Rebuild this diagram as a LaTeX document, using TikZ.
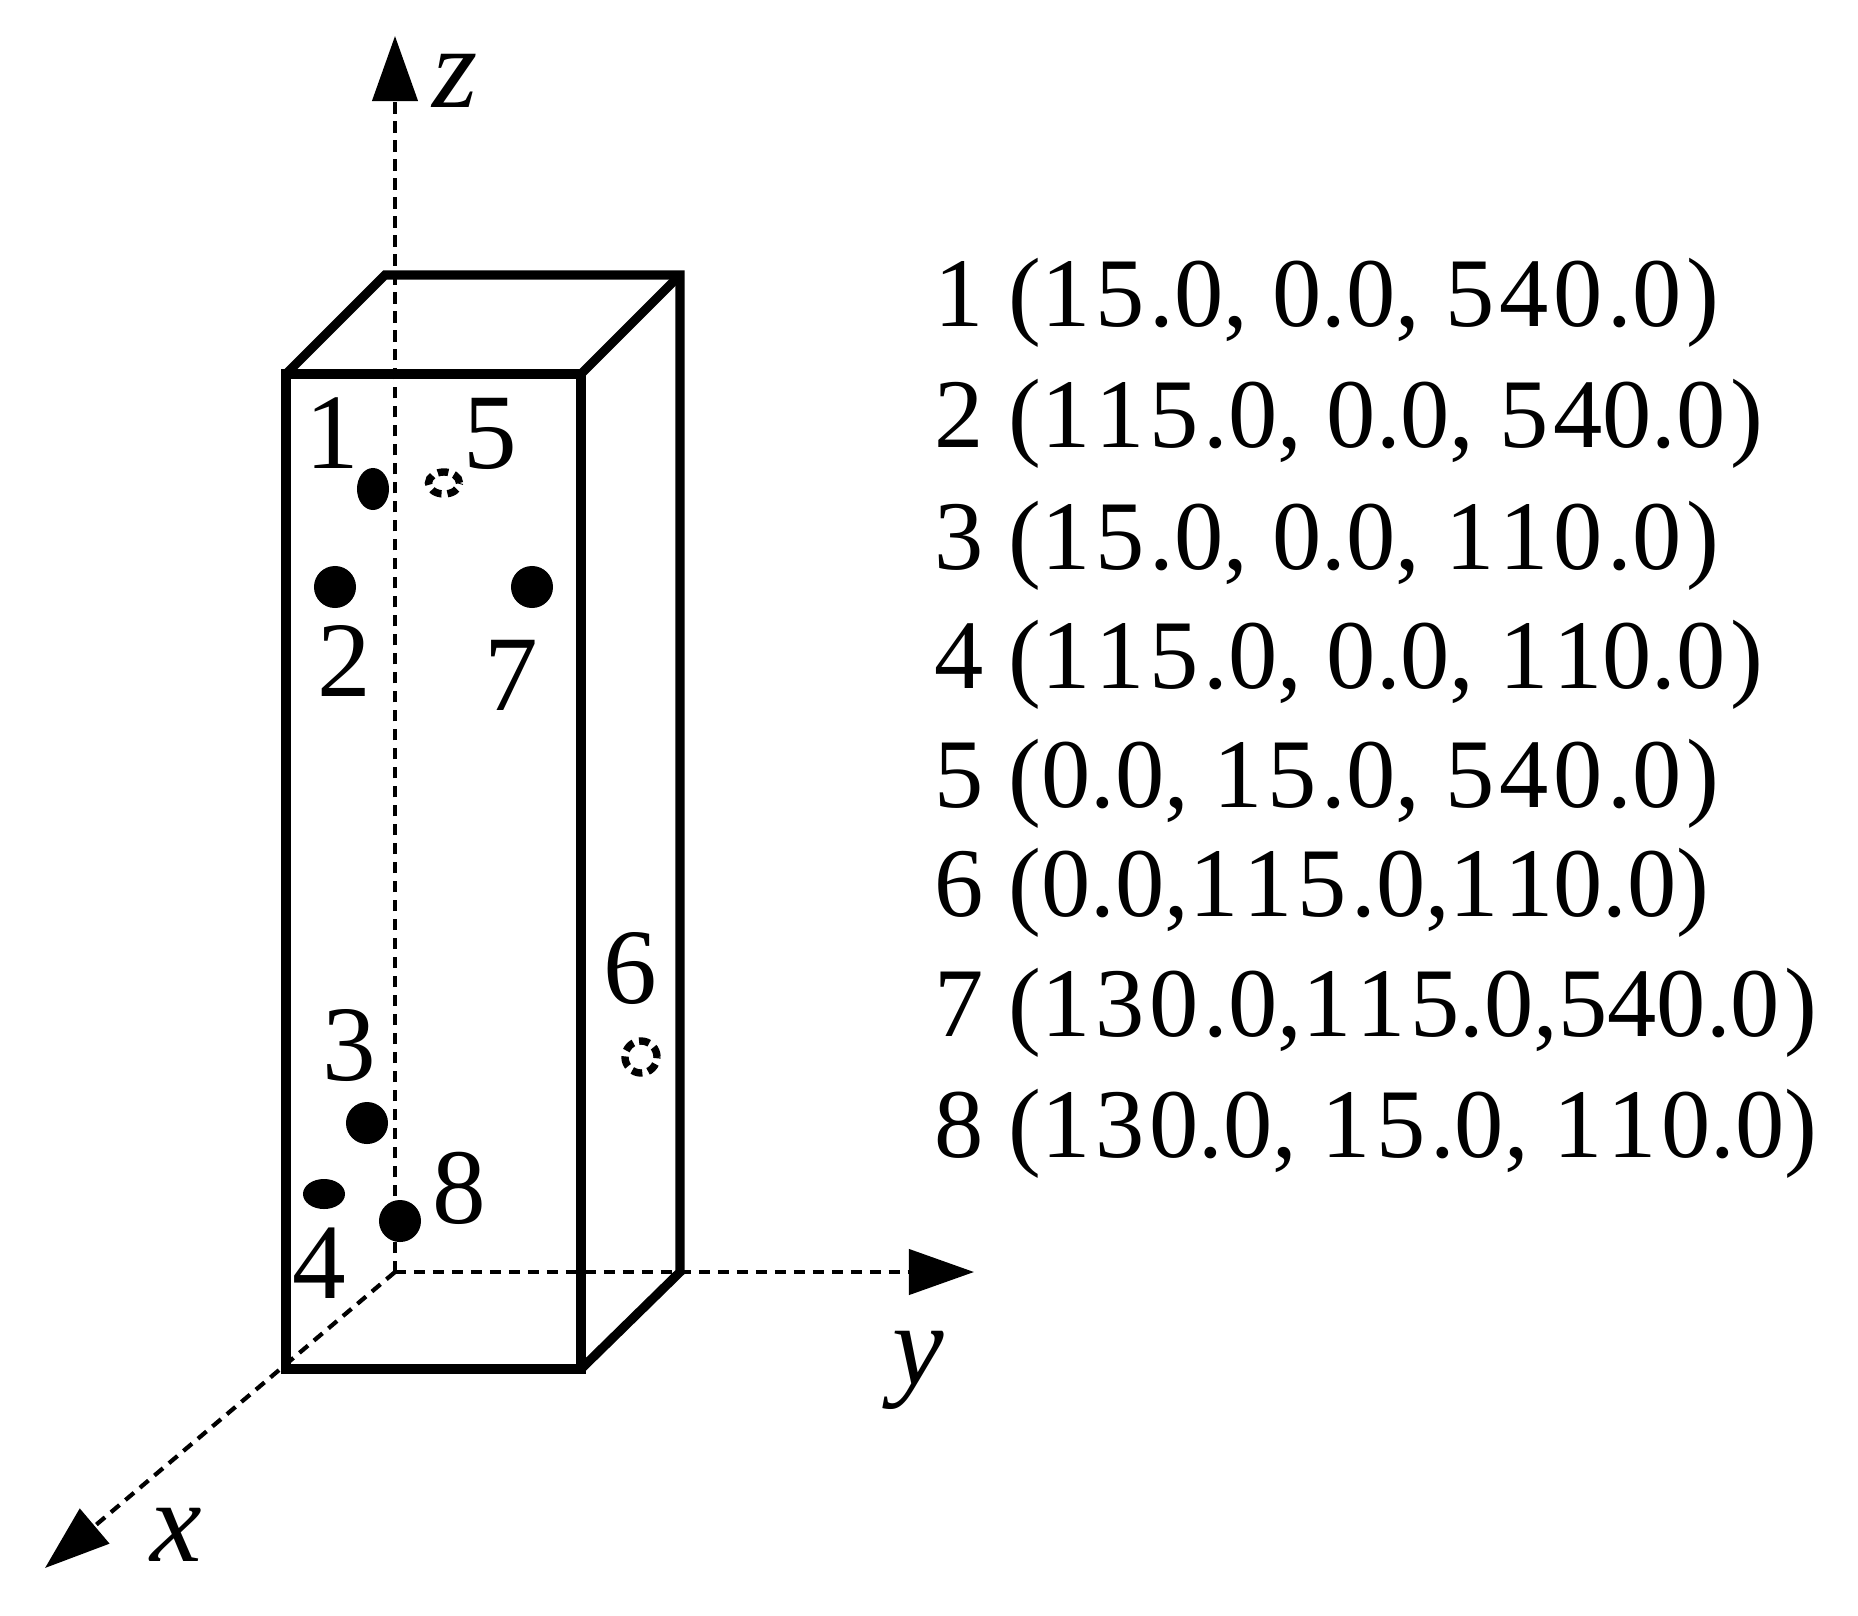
\documentclass[tikz,border=0pt]{standalone}
\usepackage{fontspec}
\setmainfont{Liberation Serif}
\usetikzlibrary{arrows.meta,shapes.geometric}
\newcommand{\tk}{\kern0.05em}
\tikzset{
    axis/.style={line width=1.2pt,dash pattern=on 3.2pt off 2.2pt,-{Triangle[length=0.65cm,width=0.45cm]}},
    axlab/.style={anchor=base,inner sep=0pt,font=\fontsize{33}{33}\selectfont\itshape},
    edge/.style={line width=2.6pt,line join=miter},
    dot/.style={ellipse,fill=black,inner sep=0pt,minimum width=#1},
    ghost/.style={ellipse,draw,line width=2.1pt,dash pattern=on 3pt off 1.7pt,inner sep=0pt},
    lab/.style={anchor=base,inner sep=0pt,font=\fontsize{30.5}{31}\selectfont},
    row/.style={anchor=base west,inner sep=0pt,font=\fontsize{28}{28}\selectfont},
}
\begin{document}
\begin{tikzpicture}[x=0.01cm,y=-0.01cm]
    \useasboundingbox (0,0) rectangle (1858,1615);
    % axes
    \coordinate (o) at (395,1272);
    \coordinate (ztip) at (395,36);
    \coordinate (ytip) at (974,1272);
    \coordinate (xtip) at (45,1568);
    \draw[axis] (o) -- (ztip);
    \draw[axis] (o) -- (ytip);
    \draw[axis] (o) -- (xtip);
    \node[axlab] (zl) at (455,107) {z};
    \node[axlab] (yl) at (918,1384) {y};
    \node[axlab] (xl) at (176,1561) {x};
    % box
    \coordinate (a) at (286,374);
    \coordinate (b) at (581,374);
    \coordinate (c) at (581,1369);
    \coordinate (d) at (286,1369);
    \coordinate (e) at (385,275);
    \coordinate (f) at (680,275);
    \coordinate (g) at (680,1272);
    \draw[edge] (a) -- (b) -- (c) -- (d) -- cycle;
    \draw[edge] (a) -- (e) -- (f) -- (g) -- (c);
    \draw[edge] (f) -- (b);
    % points
    \node[dot=0.32cm,minimum height=0.42cm] (p1) at (373,489) {};
    \node[dot=0.42cm,minimum height=0.42cm] (p2) at (335,587) {};
    \node[dot=0.42cm,minimum height=0.42cm] (p3) at (367,1123) {};
    \node[dot=0.42cm,minimum height=0.30cm] (p4) at (324,1194) {};
    \node[ghost,minimum width=0.31cm,minimum height=0.22cm] (p5) at (444,483) {};
    \node[ghost,minimum width=0.32cm,minimum height=0.32cm] (p6) at (641,1057) {};
    \node[dot=0.42cm,minimum height=0.42cm] (p7) at (532,587) {};
    \node[dot=0.42cm,minimum height=0.42cm] (p8) at (400,1221) {};
    % point labels
    \node[lab] (l1) at (332,468) {1};
    \node[lab] (l2) at (344,696) {2};
    \node[lab] (l3) at (349,1080) {3};
    \node[lab] (l4) at (319,1298) {4};
    \node[lab] (l5) at (490,468) {5};
    \node[lab] (l6) at (630,1003) {6};
    \node[lab] (l7) at (511,710) {7};
    \node[lab] (l8) at (459,1223) {8};
    % list
    \node[row] (r1) at (934,326) {1 (1\tk5\tk.0, 0.0, 5\tk4\tk0\tk.0\tk)};
    \node[row] (r2) at (934,447) {2 (1\tk1\tk5\tk.0, 0.0, 5\tk40.0\tk)};
    \node[row] (r3) at (934,569) {3 (1\tk5\tk.0, 0.0, 1\tk1\tk0\tk.0\tk)};
    \node[row] (r4) at (934,688) {4 (1\tk1\tk5\tk.0, 0.0, 1\tk10.0\tk)};
    \node[row] (r5) at (934,807) {5 (0.0, 1\tk5\tk.0, 5\tk4\tk0\tk.0\tk)};
    \node[row] (r6) at (934,916) {6 (0.0,1\tk1\tk5\tk.0,1\tk10.0)};
    \node[row] (r7) at (934,1036) {7 (1\tk3\tk0\tk.0,1\tk1\tk5.0,540.0\tk)};
    \node[row] (r8) at (934,1157) {8 (1\tk3\tk0.0, 1\tk5\tk.0, 1\tk1\tk0.0)};
\end{tikzpicture}
\end{document}
